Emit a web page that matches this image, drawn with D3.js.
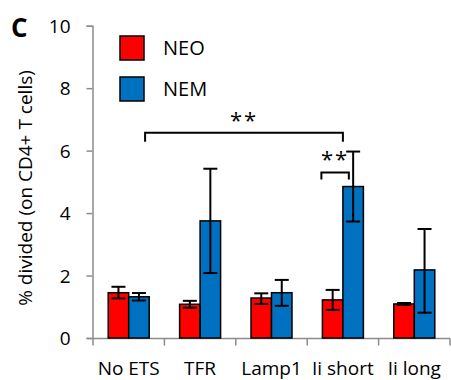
<!DOCTYPE html>
<html>
<head>
<meta charset="utf-8">
<script src="https://cdn.jsdelivr.net/npm/d3@7"></script>
<style>
  body { margin: 0; background: #fff; }
  text { font-family: "Open Sans", sans-serif; fill: #000; }
</style>
</head>
<body>
<svg id="chart" width="451" height="380"></svg>
<script>
const categories = ["No ETS", "TFR", "Lamp1", "Ii short", "Ii long"];
const series = ["NEO", "NEM"];
const colors = ["#ff0000", "#0070c0"];
// mean values per series
const neo = [1.45, 1.08, 1.28, 1.22, 1.09];
const nem = [1.32, 3.75, 1.45, 4.85, 2.18];
// error bar low / high
const neoLow = [1.27, 0.97, 1.09, 0.90, 1.06];
const neoHigh = [1.64, 1.19, 1.43, 1.54, 1.12];
const nemLow = [1.20, 2.08, 1.03, 3.73, 0.81];
const nemHigh = [1.44, 5.42, 1.86, 5.97, 3.49];
const yTicks = [0, 2, 4, 6, 8, 10];

const svg = d3.select("#chart");
const x = d3.scaleBand().domain(categories).range([93, 450]).paddingInner(0).paddingOuter(0);
const y = d3.scaleLinear().domain([0, 10]).range([338, 25.7]);
const barW = x.bandwidth() * 0.287;

const values = [neo, nem];
const lows = [neoLow, nemLow];
const highs = [neoHigh, nemHigh];

// axes
const yAxis = svg.append("g").attr("transform", "translate(92.5,0)")
  .call(d3.axisLeft(y).tickValues(yTicks).tickSize(6).tickPadding(16).tickFormat(d3.format("d")));
yAxis.select(".domain").attr("stroke", "#8c8c8c").attr("stroke-width", 1.5);
yAxis.selectAll(".tick line").attr("stroke", "#8c8c8c").attr("stroke-width", 1.5);
yAxis.selectAll(".tick text").style("font-size", "19px").attr("dy", "0.35em");

const xAxis = svg.append("g").attr("transform", "translate(0,338.5)");
xAxis.append("line").attr("x1", 92.5).attr("x2", 450).attr("stroke", "#8c8c8c").attr("stroke-width", 1.5);
const bounds = categories.map(c => x(c)).concat([x.range()[1]]);
xAxis.selectAll(".tk").data(bounds).enter().append("line")
  .attr("x1", d => d).attr("x2", d => d).attr("y1", 0).attr("y2", 7)
  .attr("stroke", "#8c8c8c").attr("stroke-width", 1.5);
xAxis.selectAll(".lbl").data(categories).enter().append("text")
  .attr("x", d => x(d) + x.bandwidth() / 2).attr("y", 36)
  .attr("text-anchor", "middle").style("font-size", "19px").text(d => d);

// bars
series.forEach((s, si) => {
  const g = svg.append("g");
  const bx = c => x(c) + x.bandwidth() / 2 + (si - 1) * barW;
  g.selectAll("rect").data(categories).enter().append("rect")
    .attr("x", bx).attr("width", barW)
    .attr("y", (c, i) => y(values[si][i]))
    .attr("height", (c, i) => y(0) - y(values[si][i]))
    .attr("fill", colors[si]).attr("stroke", "#000").attr("stroke-width", 1.5);
  const eb = g.selectAll(".eb").data(categories).enter().append("g");
  eb.append("line")
    .attr("x1", c => bx(c) + barW / 2).attr("x2", c => bx(c) + barW / 2)
    .attr("y1", (c, i) => y(lows[si][i])).attr("y2", (c, i) => y(highs[si][i]))
    .attr("stroke", "#000").attr("stroke-width", 2);
  [lows, highs].forEach(arr => {
    eb.append("line")
      .attr("x1", c => bx(c) + barW / 2 - 7).attr("x2", c => bx(c) + barW / 2 + 7)
      .attr("y1", (c, i) => y(arr[si][i])).attr("y2", (c, i) => y(arr[si][i]))
      .attr("stroke", "#000").attr("stroke-width", 2);
  });
});

// significance brackets
function bracket(c1, off1, c2, off2, level, drop, label) {
  const x1 = x(c1) + x.bandwidth() / 2 + off1 * barW;
  const x2 = x(c2) + x.bandwidth() / 2 + off2 * barW;
  const yy = y(level);
  svg.append("path")
    .attr("d", `M${x1},${yy + drop}V${yy}H${x2}V${yy + drop}`)
    .attr("fill", "none").attr("stroke", "#000").attr("stroke-width", 2);
  svg.append("text").attr("x", (x1 + x2) / 2).attr("y", yy - 5)
    .attr("text-anchor", "middle").style("font-size", "22px").style("letter-spacing", "2px")
    .text(label);
}
bracket("No ETS", 0.8, "Ii short", 0, 6.57, 9, "**");
bracket("Ii short", -1.05, "Ii short", 0.29, 5.3, 7, "**");

// legend
const leg = svg.append("g");
series.forEach((s, i) => {
  leg.append("rect").attr("x", 120).attr("y", 36 + i * 41).attr("width", 24).attr("height", 24)
    .attr("fill", colors[i]).attr("stroke", "#000").attr("stroke-width", 1.5);
  leg.append("text").attr("x", 163).attr("y", 48 + i * 41).attr("dy", "0.35em")
    .style("font-size", "20px").text(s);
});

// y label
svg.append("text").attr("transform", "translate(25,188) rotate(-90)")
  .attr("text-anchor", "middle").attr("dy", "0.35em").style("font-size", "19px")
  .text("% divided (on CD4+ T cells)");

// panel letter
svg.append("text").attr("x", 11).attr("y", 37).style("font-size", "26px").style("font-weight", "bold").text("C");
</script>
</body>
</html>
